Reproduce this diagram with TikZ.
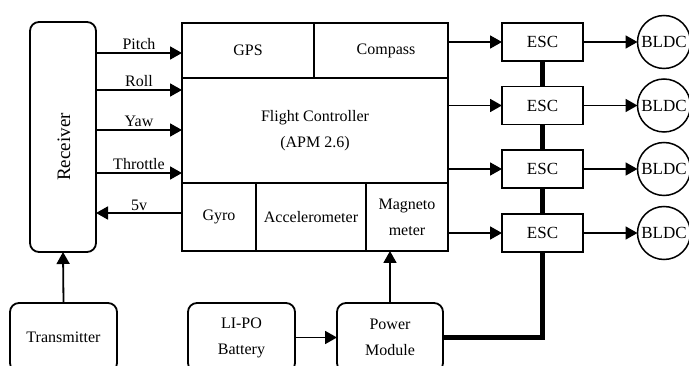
\documentclass[tikz,border=0pt]{standalone}
\usepackage{fontspec}
\setmainfont{Liberation Serif}
\usetikzlibrary{arrows.meta,calc}
\begin{document}
\begin{tikzpicture}[x=1pt,y=-1pt,
  line width=1.8pt,
  every node/.style={font=\fontsize{16}{26}\selectfont, inner sep=0pt, outer sep=0pt},
  sq/.style={draw, rectangle, align=center},
  rbox/.style={draw, rectangle, rounded corners=9pt, align=center},
  motor/.style={draw, circle, line width=1.5pt, minimum size=53pt, font=\fontsize{17}{20}\selectfont},
  escbox/.style={draw, rectangle, minimum width=81pt, minimum height=38pt, font=\fontsize{17}{20}\selectfont},
  arr/.style={-{Triangle[length=12pt,width=13pt]}},
  thickline/.style={line width=4.5pt},
  lbl/.style={midway, above=3pt}]
\useasboundingbox (0,0) rectangle (689,366);
\clip (0,0) rectangle (689,366);

% Receiver
\node[rbox, minimum width=66pt, minimum height=230pt] (rec) at (63,137) {};
\node[rotate=90, font=\fontsize{19}{20}\selectfont] (rectxt) at (64,147) {Receiver};

% Flight controller blocks
\node[sq, minimum width=132pt, minimum height=55pt] (gps) at (248,50.5) {GPS};
\node[sq, minimum width=134pt, minimum height=55pt] (compass) at (381,50.5) {\hspace*{10pt}Compass};
\node[sq, minimum width=266pt, minimum height=105pt] (fc) at (315,130.5) {Flight Controller\\(APM 2.6)};
\node[sq, minimum width=74pt, minimum height=68pt] (gyro) at (219,217) {Gyro};
\node[sq, minimum width=110pt, minimum height=68pt] (accel) at (311,217) {Accelerometer};
\node[sq, minimum width=82pt, minimum height=68pt] (mag) at (407,217) {Magneto\\meter};

% ESCs and motors
\node[escbox] (esc1) at (542.5,42) {ESC};
\node[escbox] (esc2) at (542.5,105.5) {ESC};
\node[escbox] (esc3) at (542.5,169) {ESC};
\node[escbox] (esc4) at (542.5,233) {ESC};
\node[motor] (m1) at (664,42) {BLDC};
\node[motor] (m2) at (664,105.5) {BLDC};
\node[motor] (m3) at (664,169) {BLDC};
\node[motor] (m4) at (664,233) {BLDC};

% Bottom blocks
\node[rbox, minimum width=107pt, minimum height=69pt] (trans) at (63.5,337.5) {Transmitter};
\node[rbox, minimum width=107pt, minimum height=69pt] (bat) at (241.5,337.5) {LI-PO\\Battery};
\node[rbox, minimum width=106pt, minimum height=69pt] (pow) at (390,337.5) {Power\\Module};

% Receiver -> FC
\draw[arr] (rec.east |- 0,53) -- (gps.west |- 0,53) node[lbl] {Pitch};
\draw[arr] (rec.east |- 0,90) -- (fc.west |- 0,90) node[lbl] {Roll};
\draw[arr] (rec.east |- 0,130) -- (fc.west |- 0,130) node[lbl] {Yaw};
\draw[arr] (rec.east |- 0,173) -- (fc.west |- 0,173) node[lbl] {Throttle};
\draw[arr] (gyro.west |- 0,213) -- (rec.east |- 0,213) node[midway, above=2pt] {5v};

% Transmitter -> Receiver
\draw[arr] (trans.north) -- (rec.south);

% FC -> ESCs
\draw[arr] (compass.east |- esc1.west) -- (esc1.west);
\draw[arr] (fc.east |- esc2.west) -- (esc2.west);
\draw[arr] (fc.east |- esc3.west) -- (esc3.west);
\draw[arr] (mag.east |- esc4.west) -- (esc4.west);

% ESCs -> motors
\draw[arr] (esc1.east) -- (m1.west);
\draw[arr] (esc2.east) -- (m2.west);
\draw[arr] (esc3.east) -- (m3.west);
\draw[arr] (esc4.east) -- (m4.west);

% Power bus
\draw[thickline] (esc1.south) -- (esc2.north);
\draw[thickline] (esc2.south) -- (esc3.north);
\draw[thickline] (esc3.south) -- (esc4.north);
\draw[thickline] (pow.east) -- (esc4.south |- pow.east) -- (esc4.south);

% Battery -> Power module, Power module -> FC
\draw[arr] (bat.east) -- (pow.west);
\draw[arr] (pow.north) -- (pow.north |- mag.south);
\end{tikzpicture}
\end{document}
